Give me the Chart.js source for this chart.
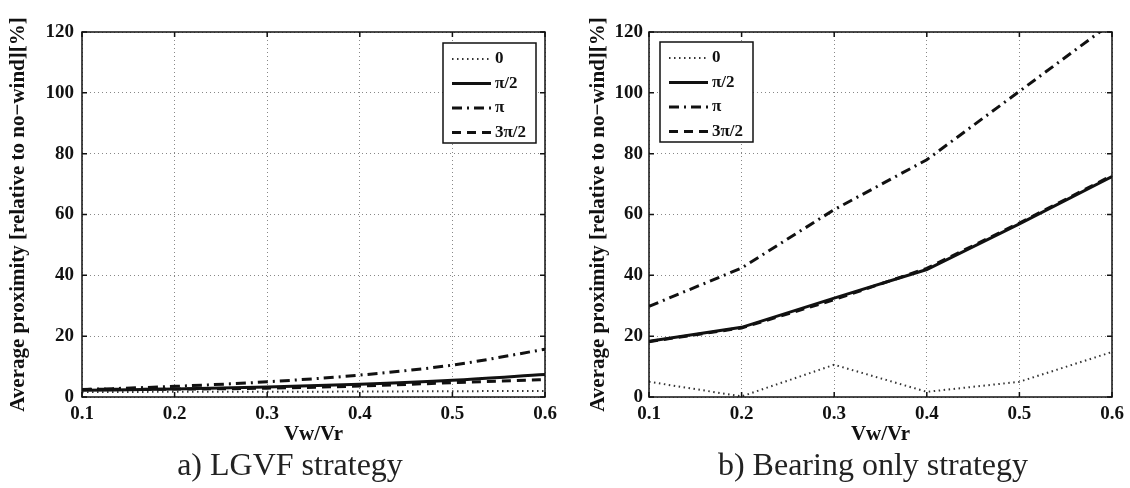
<!DOCTYPE html>
<html>
<head>
<meta charset="utf-8">
<script src="https://cdn.jsdelivr.net/npm/chart.js@4.4.1/dist/chart.umd.min.js"></script>
<style>
  body { margin: 0; background: #fff; width: 1130px; height: 488px; position: relative; overflow: hidden; }
  .panel { position: absolute; top: 0; }
  .caption { position: absolute; top: 448px; font-family: "Liberation Serif", serif; font-size: 32px; line-height: 32px; color: #222; white-space: nowrap; transform: translateX(-50%); }
</style>
</head>
<body>
<div class="panel" style="left:0"><canvas id="chartA" width="565" height="488"></canvas></div>
<div class="panel" style="left:567px"><canvas id="chartB" width="563" height="488"></canvas></div>
<div class="caption" style="left:290px">a) LGVF strategy</div>
<div class="caption" style="left:873px">b) Bearing only strategy</div>
<script>
// Vw/Vr ratios on the x axis
let xValues = [0.1, 0.2, 0.3, 0.4, 0.5, 0.6];
let seriesLabels = ["0", "π/2", "π", "3π/2"];

// a) LGVF strategy
let lgvfZero = [1.6, 1.7, 1.7, 1.8, 1.9, 2.0];
let lgvfHalfPi = [2.2, 2.6, 3.3, 4.2, 5.5, 7.4];
let lgvfPi = [2.4, 3.5, 5.0, 7.2, 10.5, 15.7];
let lgvfThreeHalfPi = [2.5, 2.6, 2.9, 3.6, 4.7, 5.7];

// b) Bearing only strategy
let bearingZero = [5.0, 0.2, 10.6, 1.7, 5.0, 14.8];
let bearingHalfPi = [18.3, 22.9, 32.5, 41.9, 56.9, 72.5];
let bearingPi = [29.8, 42.4, 61.6, 78.0, 100.5, 123.0];
let bearingThreeHalfPi = [18.2, 22.7, 32.0, 42.3, 57.2, 72.8];

const FONT = '"Liberation Serif", "Times New Roman", serif';
const tickFont = { family: FONT, size: 19, weight: 'bold' };
const titleFont = { family: FONT, size: 21, weight: 'bold' };

const lineStyles = [
  { borderDash: [1.5, 3.5], borderWidth: 2, borderColor: '#333' },
  { borderDash: [], borderWidth: 3, borderColor: '#111' },
  { borderDash: [10, 5, 2, 5], borderWidth: 3, borderColor: '#111' },
  { borderDash: [9, 6], borderWidth: 3, borderColor: '#111' }
];

function makeDatasets(seriesList, smooth) {
  return seriesList.map((vals, i) => Object.assign({
    label: seriesLabels[i],
    data: xValues.map((x, j) => ({ x: x, y: vals[j] })),
    pointRadius: 0,
    fill: false,
    tension: 0,
    cubicInterpolationMode: smooth ? 'monotone' : 'default'
  }, lineStyles[i]));
}

// box around the plot with small inward ticks, matlab style
const framePlugin = {
  id: 'frame',
  afterDatasetsDraw(chart) {
    const { ctx, chartArea: a, scales } = chart;
    ctx.save();
    ctx.strokeStyle = '#111';
    ctx.lineWidth = 1.5;
    ctx.setLineDash([]);
    ctx.strokeRect(a.left, a.top, a.right - a.left, a.bottom - a.top);
    ctx.beginPath();
    scales.x.ticks.forEach(t => {
      const px = scales.x.getPixelForValue(t.value);
      ctx.moveTo(px, a.bottom); ctx.lineTo(px, a.bottom - 5);
      ctx.moveTo(px, a.top); ctx.lineTo(px, a.top + 5);
    });
    scales.y.ticks.forEach(t => {
      const py = scales.y.getPixelForValue(t.value);
      ctx.moveTo(a.left, py); ctx.lineTo(a.left + 5, py);
      ctx.moveTo(a.right, py); ctx.lineTo(a.right - 5, py);
    });
    ctx.stroke();
    ctx.restore();
  }
};

// legend drawn inside the plot area
const boxLegend = {
  id: 'boxLegend',
  afterDatasetsDraw(chart, args, opts) {
    const { ctx, chartArea: a } = chart;
    const w = 93, h = 100;
    const x = opts.side === 'right' ? a.right - opts.inset - w : a.left + opts.inset;
    const y = a.top + opts.top;
    ctx.save();
    ctx.fillStyle = '#fff';
    ctx.fillRect(x, y, w, h);
    ctx.strokeStyle = '#111';
    ctx.lineWidth = 1.5;
    ctx.strokeRect(x, y, w, h);
    chart.data.datasets.forEach((ds, i) => {
      const ry = y + 16 + i * 24.5;
      ctx.beginPath();
      ctx.setLineDash(ds.borderDash);
      ctx.lineWidth = ds.borderWidth;
      ctx.strokeStyle = ds.borderColor;
      ctx.moveTo(x + 9, ry);
      ctx.lineTo(x + 48, ry);
      ctx.stroke();
      ctx.setLineDash([]);
      ctx.fillStyle = '#111';
      ctx.font = 'bold 17px ' + FONT;
      ctx.textBaseline = 'middle';
      ctx.fillText(ds.label, x + 52, ry);
    });
    ctx.restore();
  }
};

function makeChart(id, datasets, opt) {
  return new Chart(id, {
    type: 'line',
    data: { datasets: datasets },
    plugins: [framePlugin, boxLegend],
    options: {
      responsive: false,
      animation: false,
      layout: { padding: { top: 32, right: opt.padRight, bottom: 41, left: 0 } },
      plugins: {
        legend: { display: false },
        tooltip: { enabled: false },
        boxLegend: opt.legend
      },
      scales: {
        x: {
          type: 'linear',
          min: 0.1,
          max: 0.6,
          afterFit: s => { s.height = 50; },
          ticks: { stepSize: 0.1, padding: 6, color: '#111', font: tickFont, maxRotation: 0,
                   callback: v => v.toFixed(1) },
          grid: { color: '#888', lineWidth: 1, drawTicks: false },
          border: { display: false, dash: [1, 3] },
          title: { display: true, text: 'Vw/Vr', color: '#111', font: titleFont, padding: 0 }
        },
        y: {
          min: 0,
          max: 120,
          afterFit: s => { s.width = 82; },
          ticks: { stepSize: 20, padding: opt.tickPad, color: '#111', font: tickFont },
          grid: { color: '#888', lineWidth: 1, drawTicks: false },
          border: { display: false, dash: [1, 3] },
          title: { display: true, text: 'Average proximity [relative to no−wind][%]', color: '#111',
                   font: titleFont, padding: { top: opt.titlePad, bottom: 0 } }
        }
      }
    }
  });
}

makeChart('chartA',
  makeDatasets([lgvfZero, lgvfHalfPi, lgvfPi, lgvfThreeHalfPi], true),
  { padRight: 20, tickPad: 8, titlePad: 6, legend: { side: 'right', inset: 9, top: 11 } });

makeChart('chartB',
  makeDatasets([bearingZero, bearingHalfPi, bearingPi, bearingThreeHalfPi], false),
  { padRight: 18, tickPad: 6, titlePad: 19, legend: { side: 'left', inset: 11, top: 10 } });
</script>
</body>
</html>
